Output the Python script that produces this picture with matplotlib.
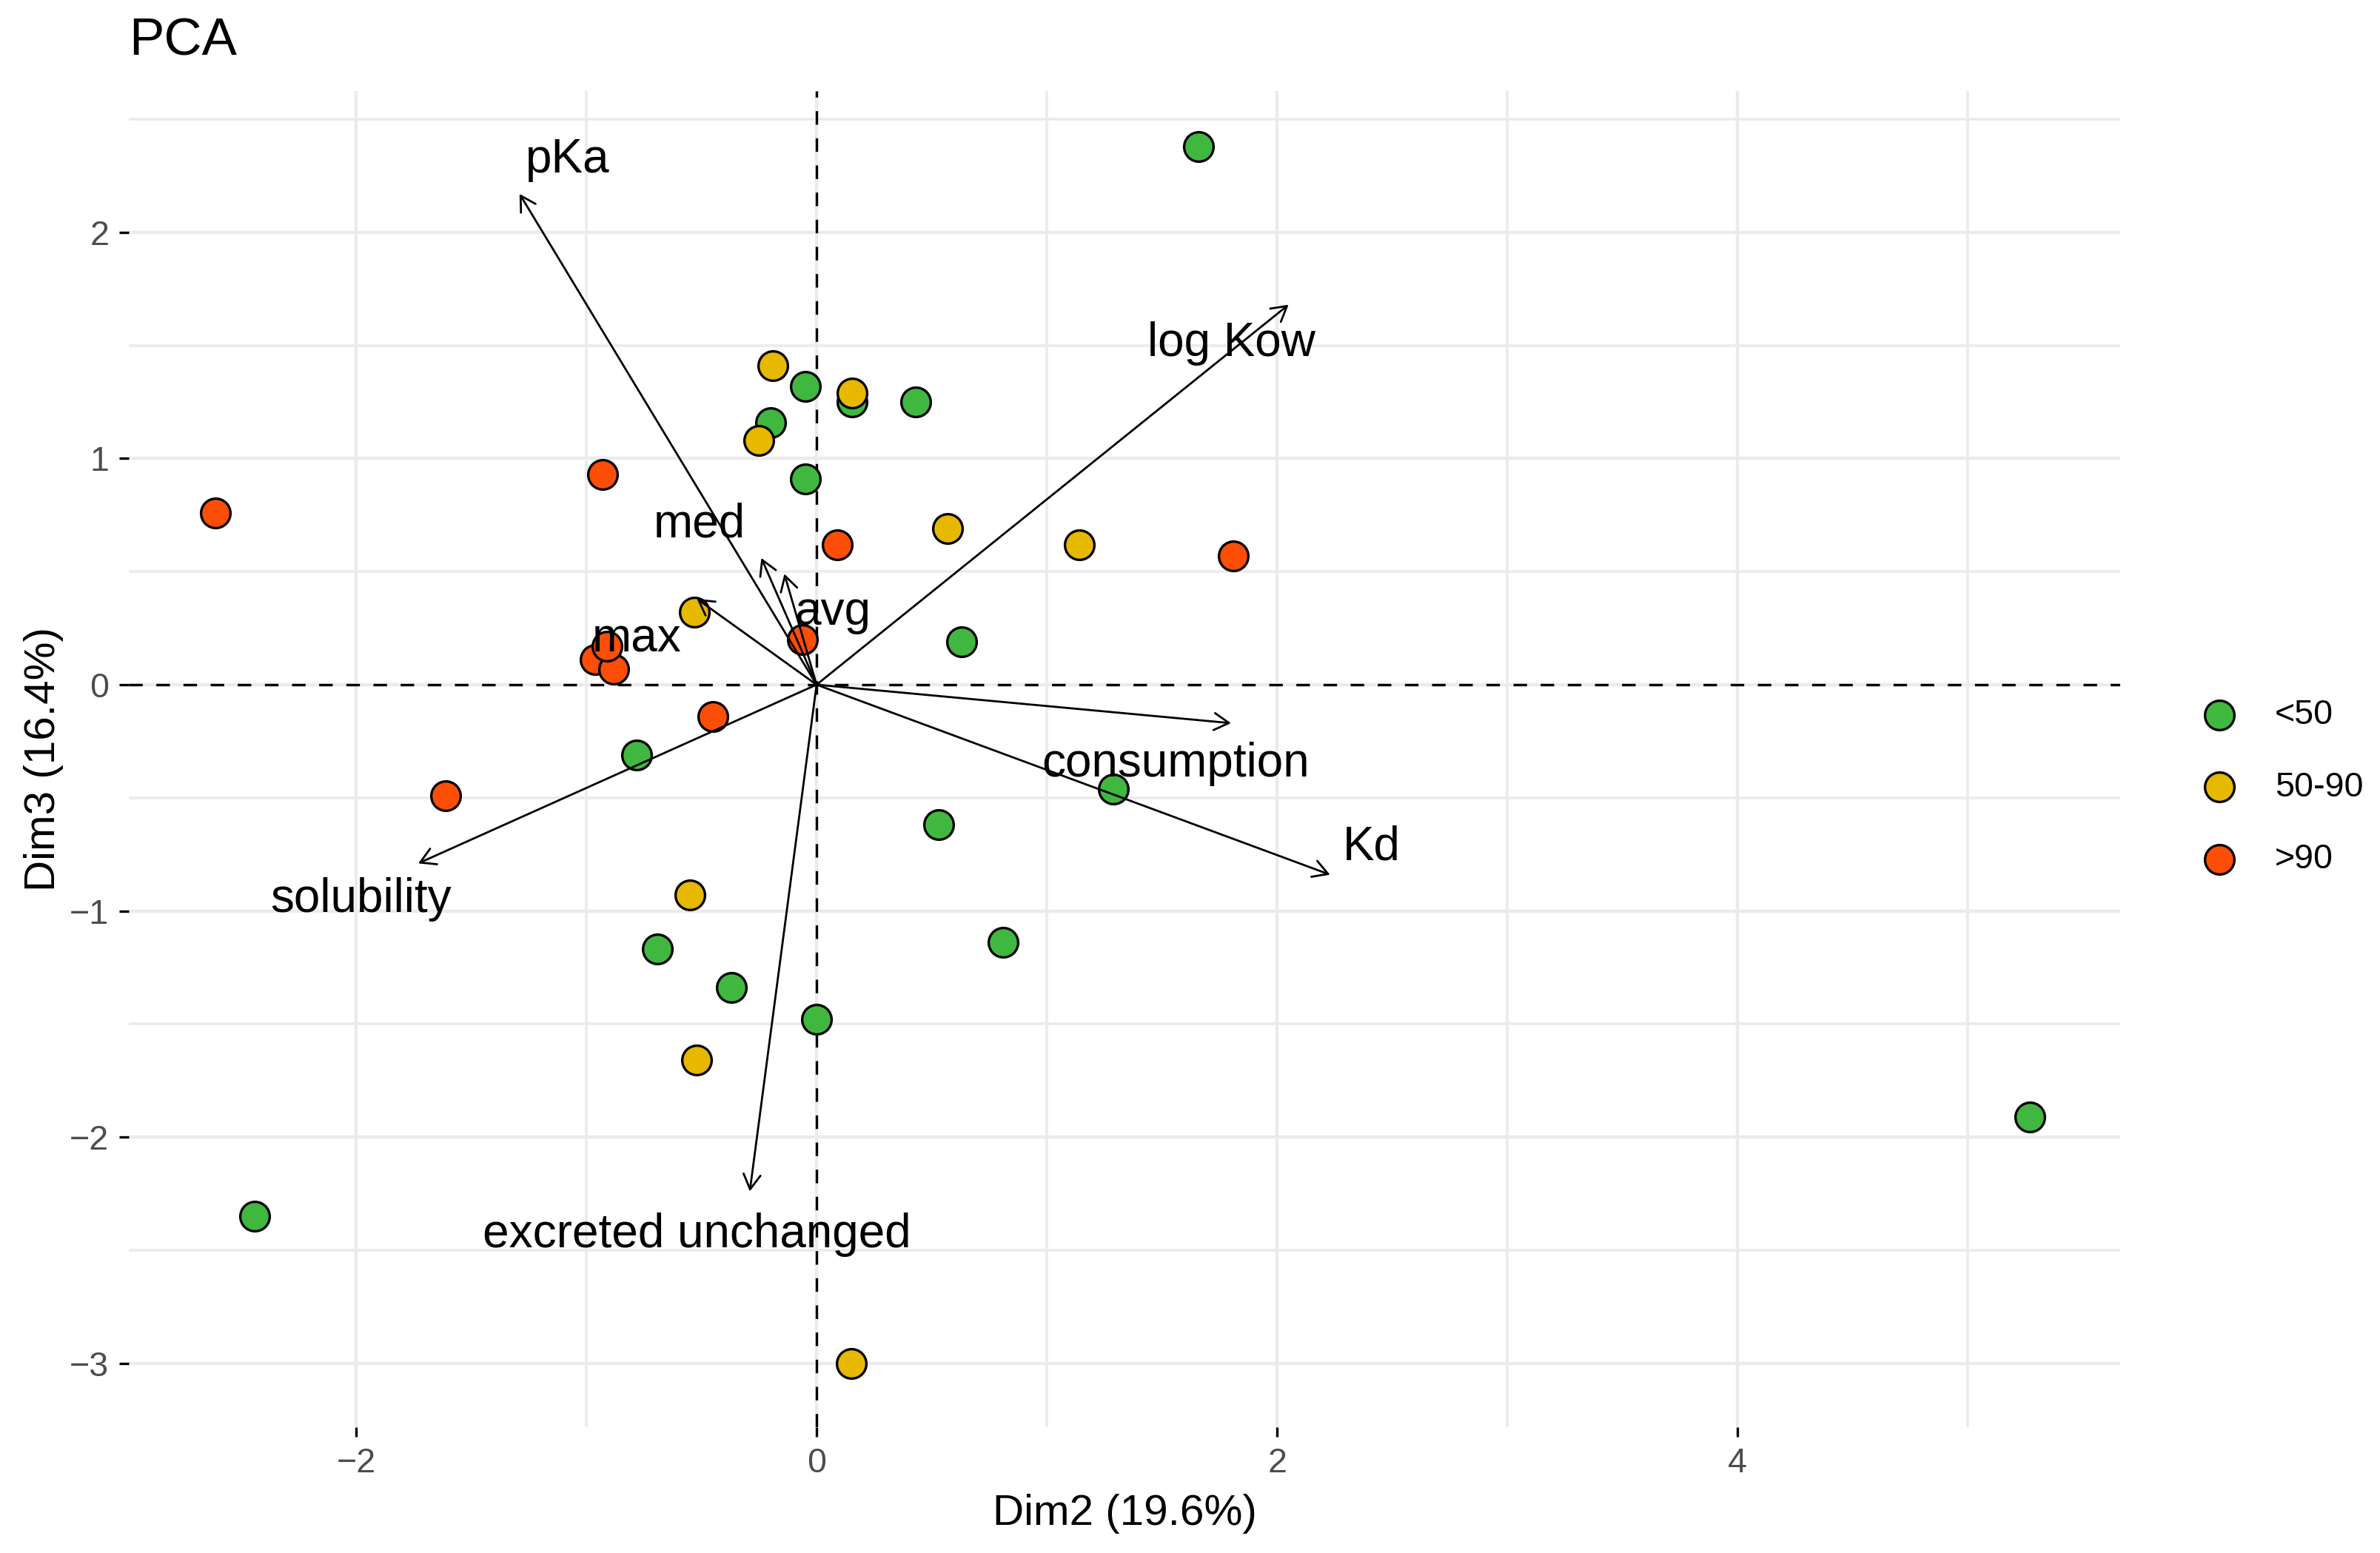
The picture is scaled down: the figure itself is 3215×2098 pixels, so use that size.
import numpy as np
import matplotlib.pyplot as plt
from matplotlib.ticker import MultipleLocator

plt.rcParams['font.family'] = ['Liberation Sans', 'DejaVu Sans']

# individuals (Dim2, Dim3) by group
green_x = [1.66, -0.05, -0.20, 0.155, 0.43, -0.05, 0.63, -0.78, 1.29, 0.53,
           -0.69, 0.81, -0.37, 0.00, -2.44, 5.27]
green_y = [2.38, 1.32, 1.16, 1.25, 1.25, 0.91, 0.19, -0.31, -0.46, -0.62,
           -1.17, -1.14, -1.34, -1.48, -2.35, -1.91]
yellow_x = [-0.19, 0.155, -0.25, 0.57, 1.14, -0.53, -0.55, -0.52, 0.15]
yellow_y = [1.41, 1.29, 1.08, 0.69, 0.62, 0.32, -0.93, -1.66, -3.00]
red_x = [-2.61, -0.93, 0.09, 1.81, -0.06, -0.96, -0.88, -0.91, -0.45, -1.61]
red_y = [0.76, 0.93, 0.62, 0.57, 0.20, 0.11, 0.07, 0.17, -0.14, -0.49]

groups = ['<50', '50-90', '>90']
colours = ['#40B840', '#E7B800', '#FC4E07']

# variable arrows
var_names = ['pKa', 'log Kow', 'med', 'avg', 'max', 'solubility',
             'excreted unchanged', 'consumption', 'Kd']
var_x = [-1.29, 2.05, -0.24, -0.14, -0.52, -1.73, -0.29, 1.80, 2.23]
var_y = [2.17, 1.68, 0.56, 0.49, 0.38, -0.79, -2.24, -0.17, -0.84]
label_x = [-1.08, 1.80, -0.51, 0.07, -0.78, -1.98, -0.52, 1.56, 2.41]
label_y = [2.32, 1.51, 0.71, 0.32, 0.20, -0.95, -2.43, -0.35, -0.72]

fig = plt.figure(figsize=(16.075, 10.49), dpi=200)
ax = fig.add_axes([0.0542, 0.0811, 0.8367, 0.8602])

ax.set_xlim(-2.986, 5.662)
ax.set_ylim(-3.282, 2.624)

# grid like theme_minimal
ax.xaxis.set_major_locator(MultipleLocator(2))
ax.xaxis.set_minor_locator(MultipleLocator(1))
ax.yaxis.set_major_locator(MultipleLocator(1))
ax.yaxis.set_minor_locator(MultipleLocator(0.5))
ax.grid(which='major', color='#EBEBEB', lw=1.6)
ax.grid(which='minor', color='#EBEBEB', lw=1.3)
ax.set_axisbelow(True)
for s in ax.spines.values():
    s.set_visible(False)

ax.tick_params(which='major', length=4.7, width=1.2, color='black',
               labelsize=16.8, labelcolor='#4D4D4D', pad=5)
ax.tick_params(which='minor', length=0)

# reference lines
dash = (0, (5.5, 5.5))
ax.axhline(0, color='black', lw=1.2, ls=dash, zorder=2)
ax.axvline(0, color='black', lw=1.2, ls=dash, zorder=2)

# points
for xs, ys, c, g in zip([green_x, yellow_x, red_x], [green_y, yellow_y, red_y],
                        colours, groups):
    ax.scatter(xs, ys, s=205, c=c, edgecolors='black', linewidths=1.2,
               zorder=3, label=g)

# arrows and labels
for name, vx, vy, lx, ly in zip(var_names, var_x, var_y, label_x, label_y):
    ax.annotate('', xy=(vx, vy), xytext=(0, 0),
                arrowprops=dict(arrowstyle='->,head_length=0.4,head_width=0.23',
                                mutation_scale=18, lw=1.0, color='black',
                                shrinkA=0, shrinkB=0),
                zorder=4)
    ax.text(lx, ly, name, fontsize=23, ha='center', va='center', zorder=5)

ax.set_xlabel('Dim2 (19.6%)', fontsize=21, labelpad=7)
ax.set_ylabel('Dim3 (16.4%)', fontsize=21, labelpad=3)

fig.text(0.0542, 0.973, 'PCA', fontsize=25.5, ha='left', va='center')

handles, labels = ax.get_legend_handles_labels()
fig.legend(handles, labels, loc='center left', bbox_to_anchor=(0.905, 0.493),
           frameon=False, fontsize=16.8, labelspacing=1.15, handletextpad=0.6)

fig.savefig('out.png', dpi=200)
